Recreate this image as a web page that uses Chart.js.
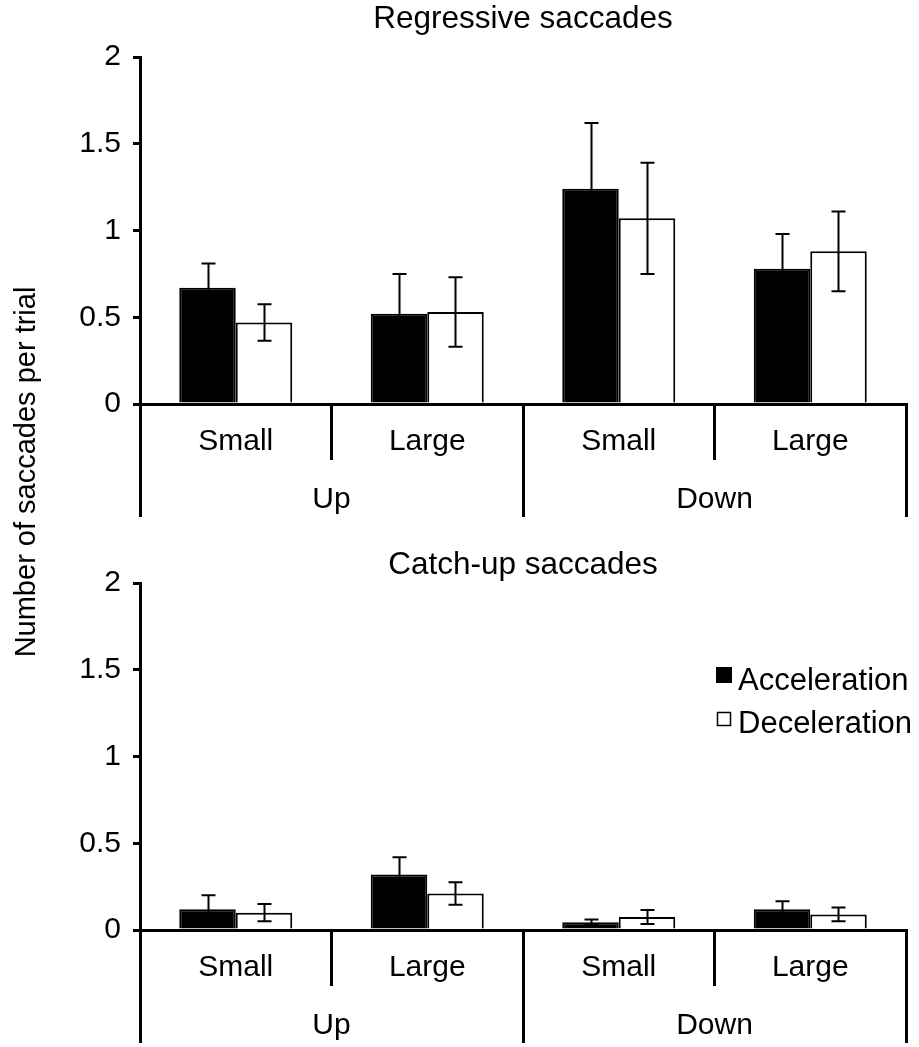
<!DOCTYPE html>
<html>
<head>
<meta charset="utf-8">
<script src="https://cdn.jsdelivr.net/npm/chart.js@4.4.1/dist/chart.umd.min.js"></script>
<style>
  html, body { margin: 0; padding: 0; background: #fff; }
  #wrap { position: relative; width: 919px; height: 1047px; overflow: hidden; }
  #topChart { position: absolute; left: 0; top: 0; width: 919px; height: 530px; }
  #bottomChart { position: absolute; left: 0; top: 530px; width: 919px; height: 517px; }
  #yTitle {
    position: absolute; left: -275px; top: 455px; width: 600px; height: 34px;
    line-height: 34px; text-align: center; transform: rotate(-90deg);
    font-family: 'Liberation Sans', Arial, sans-serif; font-size: 29px; color: #000;
  }
</style>
</head>
<body>
<div id="wrap">
  <canvas id="topChart" width="919" height="530"></canvas>
  <canvas id="bottomChart" width="919" height="517"></canvas>
  <div id="yTitle">Number of saccades per trial</div>
</div>
<script>
// categories
var sizes = ['Small', 'Large', 'Small', 'Large'];
var directions = ['Up', 'Down'];
var yTicks = [0, 0.5, 1, 1.5, 2];

// regressive saccades (top)
var regAccel = [0.67, 0.52, 1.24, 0.78];
var regAccelErr = [0.14, 0.23, 0.38, 0.20];
var regDecel = [0.47, 0.53, 1.07, 0.88];
var regDecelErr = [0.105, 0.20, 0.32, 0.23];

// catch-up saccades (bottom)
var catchAccel = [0.12, 0.32, 0.045, 0.12];
var catchAccelErr = [0.08, 0.10, 0.015, 0.045];
var catchDecel = [0.10, 0.21, 0.075, 0.09];
var catchDecelErr = [0.05, 0.065, 0.04, 0.04];

var FONT = "'Liberation Sans', Arial, sans-serif";

// draws the error bars on top of the bars
var errorBarPlugin = {
	id: 'errorBars',
	afterDatasetsDraw: function(chart) {
		var ctx = chart.ctx;
		var yScale = chart.scales.y;
		ctx.save();
		ctx.strokeStyle = '#000';
		ctx.lineWidth = 2;
		chart.data.datasets.forEach(function(ds, d) {
			var meta = chart.getDatasetMeta(d);
			meta.data.forEach(function(bar, i) {
				var v = ds.data[i], e = ds.errorBars[i];
				var yHi = yScale.getPixelForValue(v + e);
				var yLo = yScale.getPixelForValue(Math.max(v - e, 0));
				var x = Math.round(bar.x) + 0.5;
				ctx.beginPath();
				ctx.moveTo(x, yHi);
				ctx.lineTo(x, yLo);
				ctx.moveTo(x - 7, yHi);
				ctx.lineTo(x + 7, yHi);
				ctx.moveTo(x - 7, yLo);
				ctx.lineTo(x + 7, yLo);
				ctx.stroke();
			});
		});
		ctx.restore();
	}
};

// legend inside the lower plot
var boxLegendPlugin = {
	id: 'boxLegend',
	afterDraw: function(chart, args, opts) {
		if (!opts.show) return;
		var ctx = chart.ctx;
		var area = chart.chartArea;
		ctx.save();
		ctx.font = '31px ' + FONT;
		ctx.textBaseline = 'alphabetic';
		ctx.fillStyle = '#000';
		chart.data.datasets.forEach(function(ds, d) {
			var base = area.top + 107 + d * 43;
			var bx = area.left + 576;
			if (ds.backgroundColor === '#000') {
				ctx.fillRect(bx, base - 23, 16, 16);
			} else {
				ctx.lineWidth = 1.5;
				ctx.strokeStyle = '#000';
				ctx.strokeRect(bx + 1.5, base - 20.5, 13, 13);
			}
			ctx.fillStyle = '#000';
			ctx.fillText(ds.label, bx + 22, base);
		});
		ctx.restore();
	}
};

function makeChart(id, title, titlePad, bottomPad, accel, accelErr, decel, decelErr, showLegend) {
	var ctx = document.getElementById(id).getContext('2d');
	return new Chart(ctx, {
		type: 'bar',
		data: {
			labels: sizes,
			datasets: [{
				label: 'Acceleration',
				data: accel,
				errorBars: accelErr,
				backgroundColor: '#000',
				borderColor: '#000',
				borderWidth: 2,
				xAxisID: 'x'
			}, {
				label: 'Deceleration',
				data: decel,
				errorBars: decelErr,
				backgroundColor: '#fff',
				borderColor: '#000',
				borderWidth: 2,
				xAxisID: 'x'
			}]
		},
		options: {
			responsive: false,
			animation: false,
			devicePixelRatio: 1,
			layout: { padding: { left: 0, right: 13, top: 0, bottom: bottomPad } },
			datasets: { bar: { categoryPercentage: 0.59, barPercentage: 1.0 } },
			plugins: {
				legend: { display: false },
				tooltip: { enabled: false },
				title: {
					display: true,
					text: title,
					fullSize: false,
					color: '#000',
					font: { family: FONT, size: 31.5, weight: 'normal', lineHeight: 1.1 },
					padding: titlePad
				},
				boxLegend: { show: showLegend }
			},
			scales: {
				x: {
					type: 'category',
					position: 'bottom',
					weight: 0,
					offset: true,
					grid: { offset: true, drawOnChartArea: false, tickLength: 56, color: '#000', lineWidth: 3 },
					border: { color: '#000', width: 3 },
					ticks: { color: '#000', font: { family: FONT, size: 30 }, padding: -36, maxRotation: 0, autoSkip: false },
					afterFit: function(s) { s.height = 56; }
				},
				x2: {
					type: 'category',
					labels: directions,
					position: 'bottom',
					weight: 1,
					offset: true,
					grid: { offset: true, drawOnChartArea: false, tickLength: 57, color: '#000', lineWidth: 3 },
					border: { display: false },
					ticks: { color: '#000', font: { family: FONT, size: 30 }, padding: -35, maxRotation: 0, autoSkip: false },
					afterFit: function(s) { s.height = 57; }
				},
				y: {
					min: 0,
					max: 2,
					afterBuildTicks: function(s) { s.ticks = yTicks.map(function(v) { return { value: v }; }); },
					ticks: {
						color: '#000',
						font: { family: FONT, size: 30 },
						padding: 12,
						callback: function(v) { return String(v); }
					},
					grid: { drawOnChartArea: false, tickLength: 7, color: '#000', lineWidth: 3 },
					border: { color: '#000', width: 3 },
					afterFit: function(s) { s.width = 140; }
				}
			}
		},
		plugins: [errorBarPlugin, boxLegendPlugin]
	});
}

makeChart('topChart', 'Regressive saccades', { top: 1.7, bottom: 20.65 }, 13,
	regAccel, regAccelErr, regDecel, regDecelErr, false);
makeChart('bottomChart', 'Catch-up saccades', { top: 17.7, bottom: 0.65 }, 4,
	catchAccel, catchAccelErr, catchDecel, catchDecelErr, true);
</script>
</body>
</html>
